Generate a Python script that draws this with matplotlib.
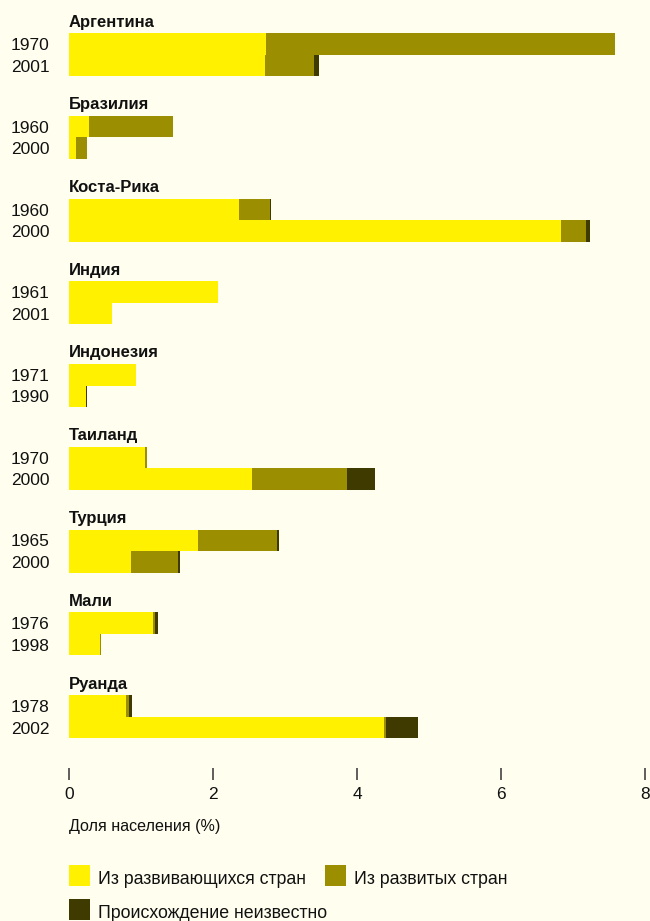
import matplotlib
matplotlib.use('Agg')
import matplotlib.pyplot as plt
from matplotlib.patches import Rectangle
import numpy as np

plt.rcParams['font.family'] = ['Liberation Sans', 'DejaVu Sans']

countries = ['Аргентина', 'Бразилия', 'Коста-Рика', 'Индия', 'Индонезия',
             'Таиланд', 'Турция', 'Мали', 'Руанда']
years = ['1970', '2001', '1960', '2000', '1960', '2000', '1961', '2001',
         '1971', '1990', '1970', '2000', '1965', '2000', '1976', '1998',
         '1978', '2002']
# share of population, % (two rows per country)
developing = [2.74, 2.72, 0.28, 0.095, 2.36, 6.83, 2.065, 0.60, 0.925, 0.235,
              1.057, 2.54, 1.79, 0.86, 1.16, 0.43, 0.79, 4.38]
developed = [4.85, 0.68, 1.16, 0.155, 0.43, 0.35, 0.0, 0.0, 0.01, 0.0,
             0.03, 1.32, 1.10, 0.65, 0.035, 0.02, 0.04, 0.02]
unknown = [0.0, 0.075, 0.0, 0.0, 0.02, 0.05, 0.0, 0.0, 0.0, 0.02,
           0.0, 0.39, 0.03, 0.035, 0.04, 0.0, 0.04, 0.45]
legend_labels = ['Из развивающихся стран', 'Из развитых стран',
                 'Происхождение неизвестно']

bg = '#FFFEEF'
c_yellow = '#FFF100'
c_olive = '#9B8E00'
c_dark = '#3F3A00'

W, H = 650, 921
fig = plt.figure(figsize=(W / 100, H / 100), dpi=100, facecolor=bg)

# axes in pixel-like data coords for y
ax_top, ax_bot = 0, 768
ax = fig.add_axes([69 / W, 1 - ax_bot / H, 576 / W, (ax_bot - ax_top) / H])
ax.set_facecolor(bg)
ax.set_xlim(0, 8)
ax.set_ylim(ax_bot, ax_top)

group_step = 82.75
bar_h = 21.5
idx = np.arange(len(years))
ypos = 44 + group_step * (idx // 2) + bar_h * (idx % 2)

dev = np.array(developing)
dvd = np.array(developed)
unk = np.array(unknown)
ax.barh(ypos, dev, height=bar_h, color=c_yellow, linewidth=0)
ax.barh(ypos, dvd, left=dev, height=bar_h, color=c_olive, linewidth=0)
ax.barh(ypos, unk, left=dev + dvd, height=bar_h, color=c_dark, linewidth=0)

for i, name in enumerate(countries):
    ax.text(0, 22 + group_step * i, name, fontsize=12, fontweight='bold',
            va='center', ha='left', color='#111111')

ax.set_yticks(ypos)
ax.set_yticklabels(years, fontsize=12.5, color='#111111')
ax.tick_params(axis='y', length=0, pad=14)

ax.set_xticks([0, 2, 4, 6, 8])
ax.set_xticklabels(['0', '2', '4', '6', '8'], fontsize=12.5, color='#111111')
ax.tick_params(axis='x', direction='out', length=8.6, width=1.1,
               color='#333333', pad=5)
for s in ax.spines.values():
    s.set_visible(False)

fig.text(69 / W, 1 - 826 / H, 'Доля населения (%)', fontsize=11.6,
         ha='left', va='center', color='#111111')

# legend
leg_items = [(69, 865, c_yellow), (325, 865, c_olive), (69, 899, c_dark)]
for (x0, y0, col), lab in zip(leg_items, legend_labels):
    fig.add_artist(Rectangle((x0 / W, 1 - (y0 + 21) / H), 21 / W, 21 / H,
                             transform=fig.transFigure, color=col, lw=0))
    fig.text((x0 + 29) / W, 1 - (y0 + 14) / H, lab, fontsize=12.8,
             ha='left', va='center', color='#111111')

fig.savefig('out.png', dpi=100, facecolor=bg)
